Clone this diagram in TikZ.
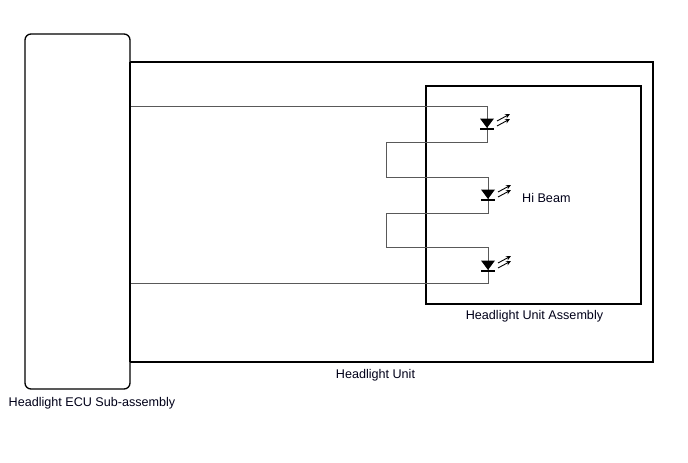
\documentclass[tikz,border=0pt]{standalone}
\usepackage{fontspec}
\setmainfont{Liberation Sans}
\usetikzlibrary{arrows.meta}
\tikzset{
  box/.style={draw=black, line width=1.3pt},
  wire/.style={draw=black!65, line width=0.9pt},
  lbl/.style={font=\fontsize{12.6}{15}\selectfont, text=black!90!blue, inner sep=0pt},
  ledsym/.pic={
    \fill[black] (-7,-4.5) -- (7,-4.5) -- (0,5) -- cycle;
    \draw[black, line width=1.4pt] (-7,5.8) -- (7,5.8);
    \draw[black, line width=0.9pt, -{Stealth[length=5pt,width=4.5pt]}] (10,-2) -- (23,-9);
    \draw[black, line width=0.9pt, -{Stealth[length=5pt,width=4.5pt]}] (10,3) -- (23,-4);
  }
}
\begin{document}
\begin{tikzpicture}[x=1pt,y=-1pt]
\useasboundingbox (0,0) rectangle (688,463);
\fill[white] (0,0) rectangle (688,463);
% outer unit
\draw[box] (130,62) rectangle (653,362);
\draw[box] (426,86) rectangle (641,304);
\draw[box, rounded corners=6pt, fill=white] (25,34) rectangle (130,389);
\node[minimum width=0pt] (ecu) at (77.5,211.5) {};
% coordinates
\coordinate (w1s) at (130,106);
\coordinate (w2s) at (130,283);
\coordinate (a1) at (487,106);
\coordinate (b1) at (487,142);
\coordinate (c1) at (386,142);
\coordinate (c2) at (386,177);
\coordinate (a2) at (488,177);
\coordinate (b2) at (488,213);
\coordinate (c3) at (386,213);
\coordinate (c4) at (386,247);
\coordinate (a3) at (488,247);
\coordinate (b3) at (488,283);
\draw[wire] (w1s) -- (a1) -- (b1) -- (c1) -- (c2) -- (a2) -- (b2) -- (c3) -- (c4) -- (a3) -- (b3) -- (w2s);
\draw[box] (130,62) -- (130,362);
\pic at (487,123) {ledsym};
\pic at (488,194) {ledsym};
\pic at (488,265) {ledsym};
% labels
\node[lbl, anchor=west] (hib) at (522,198) {Hi Beam};
\node[lbl] (hua) at (534.5,316) {Headlight Unit Assembly};
\node[lbl] (hu) at (375.5,375) {Headlight Unit};
\node[lbl] (hecu) at (92,403) {Headlight ECU Sub-assembly};
\end{tikzpicture}
\end{document}
